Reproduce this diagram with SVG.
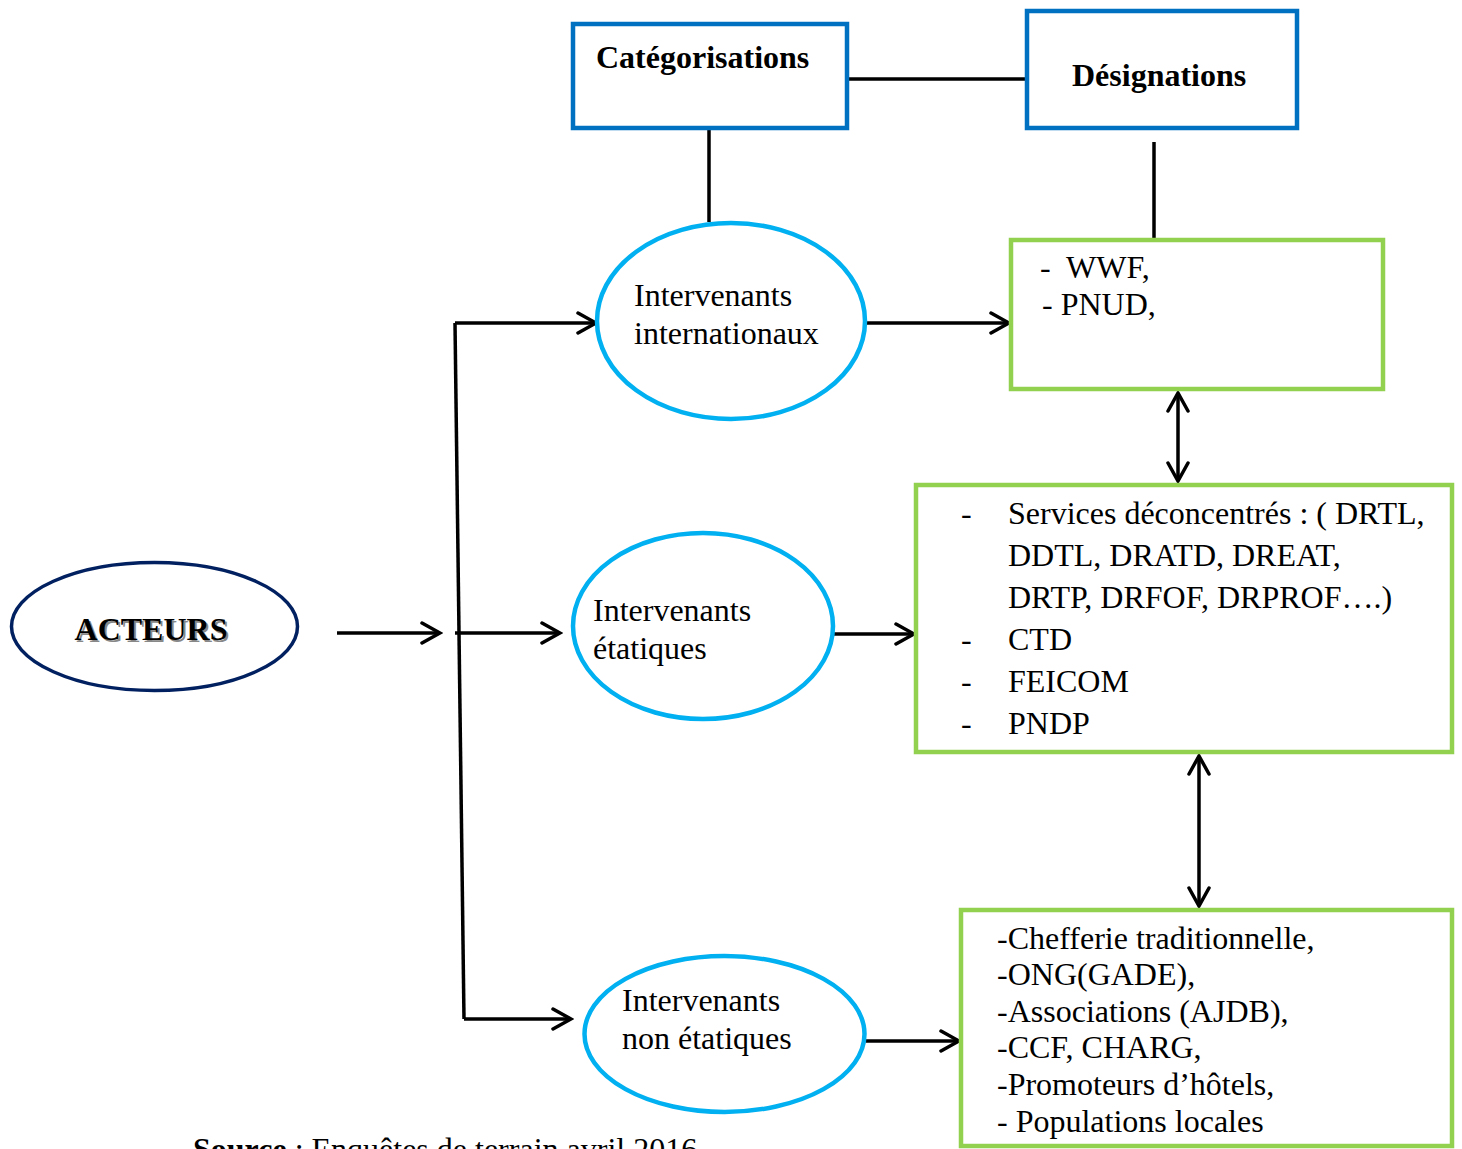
<svg xmlns="http://www.w3.org/2000/svg" width="1462" height="1149" viewBox="0 0 1462 1149">
  <style>
    .t { font-family: "Liberation Serif", "Times New Roman", serif; font-size: 32px; fill: #000; }
    .b { font-weight: bold; }
    .blue { fill: #fff; stroke: #0070C0; stroke-width: 4.5; }
    .green { fill: #fff; stroke: #92D050; stroke-width: 4.5; }
    .cyan { fill: #fff; stroke: #00B0F0; stroke-width: 4.5; }
    .con { stroke: #000; stroke-width: 3.5; fill: none; }
    .arr { marker-end: url(#ah); }
    .dbl { marker-start: url(#ah); marker-end: url(#ah); }
  </style>
  <defs>
    <marker id="ah" viewBox="0 0 24 24" refX="21" refY="12" markerWidth="24" markerHeight="24" markerUnits="userSpaceOnUse" orient="auto-start-reverse">
      <path d="M3,2 L21,12 L3,22" fill="none" stroke="#000" stroke-width="3.5" stroke-linecap="round" stroke-linejoin="miter"/>
    </marker>
  </defs>
  <rect width="1462" height="1149" fill="#fff"/>

  <g id="connectors">
    <line class="con" x1="849" y1="79" x2="1025" y2="79"/>
    <line class="con" x1="709" y1="129" x2="709" y2="222"/>
    <line class="con" x1="1154" y1="142" x2="1154" y2="238"/>
    <line class="con arr" x1="337" y1="633" x2="440" y2="633"/>
    <line class="con" x1="455" y1="323" x2="464" y2="1019"/>
    <line class="con arr" x1="455" y1="323" x2="596" y2="323"/>
    <line class="con arr" x1="455" y1="633" x2="560" y2="633"/>
    <line class="con arr" x1="464" y1="1019" x2="571" y2="1019"/>
    <line class="con arr" x1="866" y1="323" x2="1009" y2="323"/>
    <line class="con arr" x1="834" y1="634" x2="914" y2="634"/>
    <line class="con arr" x1="866" y1="1041" x2="959" y2="1041"/>
    <line class="con dbl" x1="1178" y1="393" x2="1178" y2="481"/>
    <line class="con dbl" x1="1199" y1="756" x2="1199" y2="906"/>
  </g>

  <g id="categorisations">
    <rect class="blue" x="573" y="24" width="274" height="104"/>
    <text class="t b" x="596" y="68">Catégorisations</text>
  </g>

  <g id="designations">
    <rect class="blue" x="1027" y="11" width="270" height="117"/>
    <text class="t b" x="1072" y="86">Désignations</text>
  </g>

  <g id="acteurs">
    <ellipse cx="154.5" cy="626.5" rx="143" ry="64" fill="#fff" stroke="#002060" stroke-width="3.5"/>
    <text class="t b" x="153" y="642" text-anchor="middle" style="fill:#888">ACTEURS</text>
    <text class="t b" x="151" y="640" text-anchor="middle">ACTEURS</text>
  </g>

  <g id="internationaux">
    <ellipse class="cyan" cx="731" cy="321" rx="134" ry="98"/>
    <text class="t" x="634" y="306">Intervenants</text>
    <text class="t" x="634" y="344">internationaux</text>
  </g>

  <g id="etatiques">
    <ellipse class="cyan" cx="703" cy="626" rx="130" ry="93"/>
    <text class="t" x="593" y="621">Intervenants</text>
    <text class="t" x="593" y="659">étatiques</text>
  </g>

  <g id="non-etatiques">
    <ellipse class="cyan" cx="724.5" cy="1034" rx="140" ry="78"/>
    <text class="t" x="622" y="1011">Intervenants</text>
    <text class="t" x="622" y="1049">non étatiques</text>
  </g>

  <g id="box-internationaux">
    <rect class="green" x="1011" y="240" width="372" height="149"/>
    <text class="t" x="1040" y="278">-</text>
    <text class="t" x="1066" y="278">WWF,</text>
    <text class="t" x="1042" y="315">- PNUD,</text>
  </g>

  <g id="box-etatiques">
    <rect class="green" x="916" y="485" width="536" height="267"/>
    <text class="t" x="961" y="524">-</text>
    <text class="t" x="1008" y="524">Services déconcentrés : ( DRTL,</text>
    <text class="t" x="1008" y="566">DDTL, DRATD, DREAT,</text>
    <text class="t" x="1008" y="608">DRTP, DRFOF, DRPROF….)</text>
    <text class="t" x="961" y="650">-</text>
    <text class="t" x="1008" y="650">CTD</text>
    <text class="t" x="961" y="692">-</text>
    <text class="t" x="1008" y="692">FEICOM</text>
    <text class="t" x="961" y="734">-</text>
    <text class="t" x="1008" y="734">PNDP</text>
  </g>

  <g id="box-non-etatiques">
    <rect class="green" x="961" y="910" width="491" height="236"/>
    <text class="t" x="997" y="949">-Chefferie traditionnelle,</text>
    <text class="t" x="997" y="985">-ONG(GADE),</text>
    <text class="t" x="997" y="1022">-Associations (AJDB),</text>
    <text class="t" x="997" y="1058">-CCF, CHARG,</text>
    <text class="t" x="997" y="1095">-Promoteurs d’hôtels,</text>
    <text class="t" x="997" y="1132">- Populations locales</text>
  </g>

  <g id="source">
    <text class="t" x="193" y="1160"><tspan class="b">Source</tspan> : Enquêtes de terrain avril 2016</text>
  </g>
</svg>
